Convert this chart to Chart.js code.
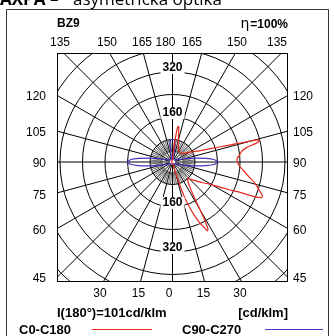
<!DOCTYPE html>
<html><head><meta charset="utf-8">
<script src="https://cdn.jsdelivr.net/npm/chart.js@4"></script>
<style>html,body{margin:0;padding:0;background:#fff;overflow:hidden}canvas{display:block}</style>
</head><body>
<canvas id="c" width="334" height="336" style="width:334px;height:336px"></canvas>
<script>
// ---- data (cd/klm vs gamma angle in degrees, 0 = nadir, 180 = zenith) ----
const gammaC0 = [0,5,10,14,16,18,19,20,22,24,26,27,28,29,30,31,33,36,40,43,46,50,55,59,62,64,66,67,68,69,70,72,76,80,84,87,90,93,96,99,101,102,103,104,104.7,105.5,106.8,109,113.7,120,130,140,150,160,165,168,170,171.5,173,175,177,180];
const c0 =      [8,10,12,20,45,100,135,160,200,235,262,275,268,235,195,160,125,100,83,80,88,102,127,153,190,225,270,313,338,342,338,324,300,271,250,237,231,230,240,250,268,290,312,318,309,255,202,148,96,70,46,44,46,60,78,105,128,126,90,45,20,10];
const gammaC180 = [0,30,60,90,120,150,180];
const c180 =      [5,4,3,3,3,4,8];
const gammaC90 = [0,20,45,60,70,75,80,84,87,90,93,96,100,105,110,120,135,150,160,165,168,170,172,174,177,180];
const c90 =      [8,8,8,15,30,45,80,120,150,160,150,120,80,45,30,15,10,10,12,12,18,30,60,78,80,80];
const gammaC270 = [0,20,45,60,70,75,80,84,87,90,93,96,100,105,110,120,135,150,160,165,168,170,172,174,177,180];
const c270 =      [8,8,8,15,30,45,80,120,150,160,150,120,80,45,30,15,10,10,12,12,18,30,60,78,80,80];
const ringValues = [80,160,240,320,400,480,560,640];
const ringLabels = [160,320];
const topLabels = ['135','150','165','180','165','150','135'];
const leftLabels = ['120','105','90','75','60','45'];
const bottomLabels = ['30','15','0','15','30'];
const seriesNames = ['C0-C180','C90-C270'];
const RED = '#e8281e', BLUE = '#4a36c0';

function toXY(gam, val, side) { // side +1 right, -1 left
  return gam.map((g,i)=>({x: side*val[i]*Math.sin(g*Math.PI/180), y: -val[i]*Math.cos(g*Math.PI/180)}));
}
const redPts = toXY(gammaC0, c0, 1).concat(toXY(gammaC180, c180, -1).reverse());
redPts.push(redPts[0]);
const bluePts = toXY(gammaC90, c90, 1).concat(toXY(gammaC270, c270, -1).reverse());
bluePts.push(bluePts[0]);

const K = 45/160; // px per cd/klm
const CX = 172.5, CY = 162;
const A = {left:57, top:53, right:288, bottom:282};

const deco = {
  id:'deco',
  beforeDatasetsDraw(chart){
    const {ctx, chartArea:a, scales:{x,y}} = chart;
    const x0 = x.getPixelForValue(0), y0 = y.getPixelForValue(0);
    const pr = v => x.getPixelForValue(v) - x0;
    ctx.save();
    ctx.beginPath(); ctx.rect(a.left,a.top,a.right-a.left,a.bottom-a.top); ctx.clip();
    ctx.strokeStyle='#000'; ctx.lineWidth=1;
    ringValues.forEach(v=>{ctx.beginPath();ctx.arc(x0,y0,pr(v),0,Math.PI*2);ctx.stroke();});
    for(let g=0; g<360; g+=15){
      const t=g*Math.PI/180;
      ctx.beginPath();ctx.moveTo(x0+3*Math.sin(t),y0+3*Math.cos(t));ctx.lineTo(x0+400*Math.sin(t),y0+400*Math.cos(t));ctx.stroke();
    }
    ctx.lineWidth=0.6;
    for(let g=0; g<360; g+=5){
      if(g%15===0) continue;
      const t=g*Math.PI/180, r1=10, r2=pr(80);
      ctx.beginPath();ctx.moveTo(x0+r1*Math.sin(t),y0+r1*Math.cos(t));ctx.lineTo(x0+r2*Math.sin(t),y0+r2*Math.cos(t));ctx.stroke();
    }
    ctx.restore();
  },
  afterDatasetsDraw(chart){
    const {ctx, chartArea:a, scales:{x,y}} = chart;
    const x0 = x.getPixelForValue(0), y0 = y.getPixelForValue(0);
    const pr = v => x.getPixelForValue(v) - x0;
    ctx.save();
    ctx.strokeStyle='#000'; ctx.lineWidth=1;
    ctx.strokeRect(a.left+0.5,a.top+0.5,a.right-a.left-1,a.bottom-a.top-1);
    ctx.font='bold 12px "Liberation Sans", Arial, sans-serif';
    ctx.textAlign='center'; ctx.textBaseline='middle';
    ringLabels.forEach(v=>{
      [-1,1].forEach(s=>{
        const ty = y0 + s*pr(v) - 4;
        const w = ctx.measureText(String(v)).width;
        ctx.fillStyle='#fff'; ctx.fillRect(x0-w/2-2, ty-6, w+4, 12);
        ctx.fillStyle='#000'; ctx.fillText(String(v), x0, ty);
      });
    });
    ctx.restore();
  },
  afterDraw(chart){
    const {ctx} = chart;
    ctx.save();
    ctx.fillStyle='#000';
    // title (cut at top)
    ctx.textBaseline='alphabetic'; ctx.textAlign='left';
    ctx.font='bold 17px "Open Sans", sans-serif';
    ctx.fillText('AXPA –', 0, 5);
    ctx.font='17px "Open Sans", sans-serif';
    ctx.fillText('asymetrická optika', 73, 5);
    // frame
    ctx.strokeStyle='#333'; ctx.lineWidth=1;
    ctx.beginPath(); ctx.moveTo(6.5,340); ctx.lineTo(6.5,9.5); ctx.lineTo(328.5,9.5); ctx.lineTo(328.5,340); ctx.stroke();
    // header
    ctx.textBaseline='middle';
    ctx.font='bold 12px "Liberation Sans", Arial, sans-serif';
    ctx.textAlign='left'; ctx.fillText('BZ9', 57, 24);
    ctx.textAlign='right'; ctx.fillText('=100%', 288, 25);
    const w = ctx.measureText('=100%').width;
    ctx.font='14px "DejaVu Sans", sans-serif'; ctx.fillText('η', 288-w-1, 24);
    // angle labels
    ctx.font='12px "Liberation Sans", Arial, sans-serif';
    ctx.textAlign='center';
    const topX=[60,107,142,165.5,192,237,277];
    topLabels.forEach((t,i)=>ctx.fillText(t, topX[i], 43));
    const sideY=[97,133,163.5,196,231,279];
    ctx.textAlign='right'; leftLabels.forEach((t,i)=>ctx.fillText(t, 46, sideY[i]));
    ctx.textAlign='left'; leftLabels.forEach((t,i)=>ctx.fillText(t, 293, sideY[i]));
    ctx.textAlign='center';
    const botX=[100,138.5,169,203.5,240];
    bottomLabels.forEach((t,i)=>ctx.fillText(t, botX[i], 294));
    // footer
    ctx.font='bold 13px "Liberation Sans", Arial, sans-serif';
    ctx.textAlign='left'; ctx.fillText('I(180°)=101cd/klm', 57, 313);
    ctx.textAlign='right'; ctx.fillText('[cd/klm]', 288, 313);
    ctx.textAlign='left';
    ctx.fillText(seriesNames[0], 19, 330);
    ctx.fillText(seriesNames[1], 182, 330);
    ctx.lineWidth=1.2;
    ctx.strokeStyle=RED; ctx.beginPath(); ctx.moveTo(92,329.5); ctx.lineTo(152,329.5); ctx.stroke();
    ctx.strokeStyle=BLUE; ctx.beginPath(); ctx.moveTo(265,329.5); ctx.lineTo(323,329.5); ctx.stroke();
    ctx.restore();
  }
};

new Chart(document.getElementById('c'), {
  type:'scatter',
  data:{datasets:[
    {label:seriesNames[0], data:redPts, showLine:true, borderColor:RED, borderWidth:1.2, pointRadius:0, tension:0.15, fill:false},
    {label:seriesNames[1], data:bluePts, showLine:true, borderColor:BLUE, borderWidth:1.2, pointRadius:0, tension:0.2, fill:false}
  ]},
  options:{
    responsive:false, animation:false, devicePixelRatio:1,
    layout:{padding:{left:A.left, top:A.top, right:334-A.right, bottom:336-A.bottom}},
    plugins:{legend:{display:false}, tooltip:{enabled:false}, title:{display:false}},
    scales:{
      x:{type:'linear', display:false, min:(A.left-CX)/K, max:(A.right-CX)/K},
      y:{type:'linear', display:false, min:-(A.bottom-CY)/K, max:(CY-A.top)/K}
    }
  },
  plugins:[deco]
});
</script></body></html>
